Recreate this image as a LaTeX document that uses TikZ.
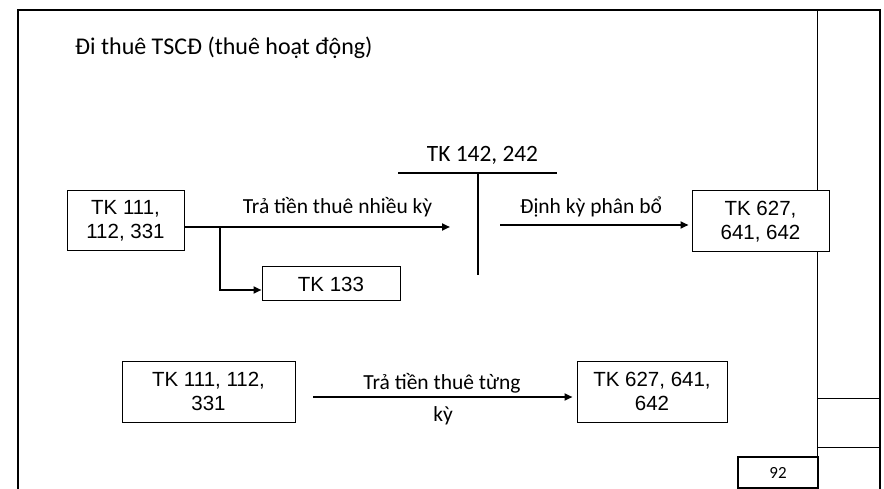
\documentclass[tikz,border=0pt]{standalone}
\usepackage{fontspec}
\setmainfont{Carlito}
\newfontfamily\arialf{Liberation Sans}
\usetikzlibrary{arrows.meta}
\begin{document}
\begin{tikzpicture}[x=1pt,y=-1pt,
  acct/.style={draw=black, line width=1pt, fill=white, font=\arialf\fontsize{20.5}{24}\selectfont, align=center, inner sep=0pt},
  lbl/.style={font=\fontsize{21.5}{25}\selectfont, inner sep=0pt, anchor=base},
  flow/.style={line width=2pt, -{Triangle[length=8pt,width=7pt]}},
  framel/.style={line width=2.5pt},
  thinl/.style={line width=1pt},
  tacc/.style={line width=2.8pt}]
\useasboundingbox (0,0) rectangle (884,489);
% slide frame
\draw[framel] (18,489) -- (18,10) -- (880,10) -- (880,489);
\draw[thinl] (817.5,10) -- (817.5,489);
\draw[thinl] (817.5,398) -- (880,398);
\draw[thinl] (817.5,447) -- (880,447);
% title
\node[anchor=west, font=\fontsize{24}{28}\selectfont, inner sep=0pt] (title) at (75,48) {Đi thuê TSCĐ (thuê hoạt động)};
% top row
\node[acct, minimum width=117pt, minimum height=60pt] (a1) at (125.5,220.5) {TK 111,\\112, 331};
\node[acct, minimum width=138pt, minimum height=34pt] (b133) at (331,284) {TK 133};
\node[acct, minimum width=137pt, minimum height=61pt] (c) at (760.5,221.5) {TK 627,\\641, 642};
% T account
\coordinate (tL) at (398,173);
\coordinate (tR) at (557,173);
\coordinate (tT) at (478,173);
\coordinate (tB) at (478,275);
\draw[tacc] (tL) -- (tR);
\draw[tacc] (tT) -- (tB);
\node[font=\fontsize{23.4}{27}\selectfont, inner sep=0pt, anchor=base] (tlab) at (482.5,162) {TK 142, 242};
% arrows top
\coordinate (t1) at (450,227);
\draw[flow] (a1.east |- t1) -- (t1);
\node[lbl] (l1) at (337.5,213.5) {Trả tiền thuê nhiều kỳ};
\coordinate (br) at (220,227);
\draw[flow] (br) |- ([yshift=-6pt]b133.west);
\coordinate (s2) at (500,225);
\draw[flow] (s2) -- ([xshift=-3pt]c.west |- s2);
\node[lbl] (l2) at (591,213.5) {Định kỳ phân bổ};
% bottom row
\node[acct, minimum width=173pt, minimum height=61pt] (d1) at (208.5,391.5) {TK 111, 112,\\331};
\node[acct, minimum width=150pt, minimum height=61pt] (d2) at (652,391.5) {TK 627, 641,\\642};
\coordinate (s3) at (313,397);
\draw[flow] (s3) -- ([xshift=-4pt]d2.west |- s3);
\node[lbl] (l3) at (442,389) {Trả tiền thuê từng};
\node[lbl] (l4) at (443,421) {kỳ};
% page number
\node[draw=black, line width=2pt, minimum width=80pt, minimum height=31pt, inner sep=0pt, font=\fontsize{17}{20}\selectfont] (pg) at (778,472.5) {92};
\end{tikzpicture}
\end{document}
